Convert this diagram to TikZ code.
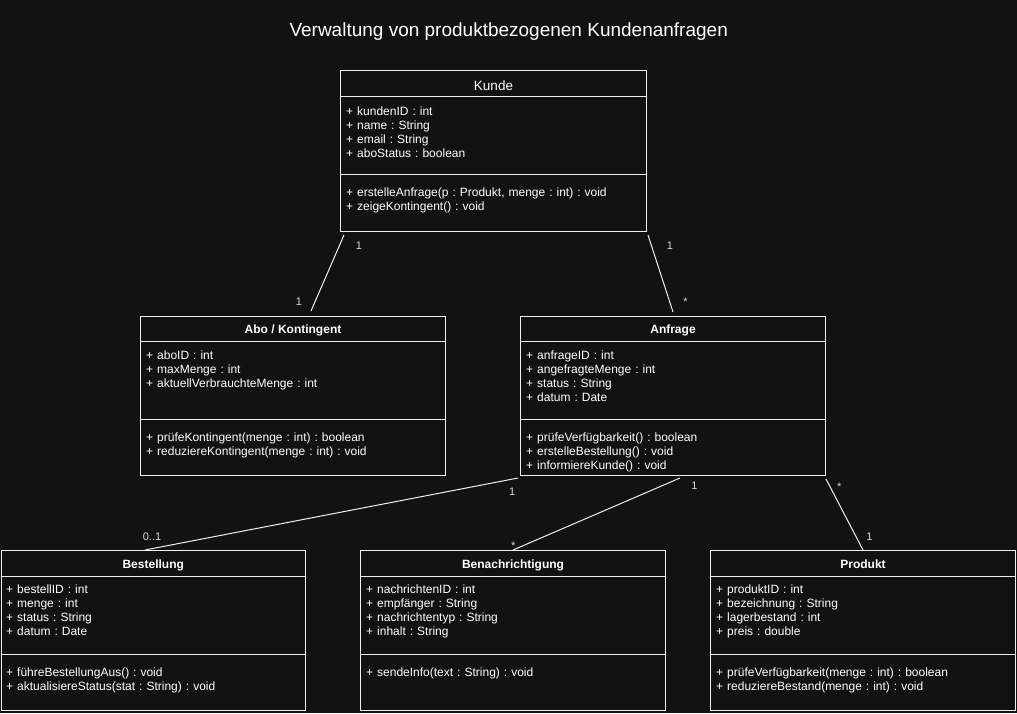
\documentclass[tikz,border=0pt]{standalone}
\usepackage{fontspec}
\setmainfont{Liberation Sans}
\usetikzlibrary{calc}
\definecolor{bg}{RGB}{18,18,18}
\definecolor{fg}{RGB}{240,240,240}
\frenchspacing
\begin{document}
\frenchspacing
\begin{tikzpicture}[x=1pt,y=-1pt,
  box/.style={draw=fg, line width=1pt, anchor=north west, inner sep=0pt, fill=bg},
  hdr/.style={text=white, font=\fontsize{12}{14}\selectfont\bfseries, anchor=base, inner sep=0pt},
  mem/.style={text=white, font=\fontsize{12}{14}\selectfont\frenchspacing, anchor=base west, inner sep=0pt, text width=295pt, align=left},
  sep/.style={draw=fg, line width=1pt},
  assoc/.style={draw=fg, line width=1pt},
  mult/.style={text=white!85!black, font=\fontsize{11}{13}\selectfont, anchor=base, inner sep=0pt}]
\fill[bg] (0,0) rectangle (1017,713);
\useasboundingbox (0,0) rectangle (1017,713);

\node[text=white, font=\fontsize{19}{22}\selectfont, anchor=base, inner sep=0pt] (title) at (508.7,36) {Verwaltung von produktbezogenen Kundenanfragen};

% Kunde
\node[box, minimum width=306pt, minimum height=161pt] (kunde) at (340,70) {};
\draw[sep] ($(kunde.north west)+(0,26)$) -- ($(kunde.north east)+(0,26)$);
\draw[sep] ($(kunde.north west)+(0,104)$) -- ($(kunde.north east)+(0,104)$);
\node[hdr, font=\fontsize{13.5}{16}\selectfont] (kunde-name) at ($(kunde.north)+(0,20)$) {Kunde};
\node[mem] (kunde-attr) at ($(kunde.north west)+(6,45)$) {+ kundenID : int\\+ name : String\\+ email : String\\+ aboStatus : boolean};
\node[mem] (kunde-meth) at ($(kunde.north west)+(6,126)$) {+ erstelleAnfrage(p : Produkt, menge : int) : void\\+ zeigeKontingent() : void};

% Abo / Kontingent
\node[box, minimum width=305pt, minimum height=159pt] (abo) at (140,316) {};
\draw[sep] ($(abo.north west)+(0,25)$) -- ($(abo.north east)+(0,25)$);
\draw[sep] ($(abo.north west)+(0,103)$) -- ($(abo.north east)+(0,103)$);
\node[hdr] (abo-name) at ($(abo.north)+(0,17.5)$) {Abo / Kontingent};
\node[mem] (abo-attr) at ($(abo.north west)+(6,43.5)$) {+ aboID : int\\+ maxMenge : int\\+ aktuellVerbrauchteMenge : int};
\node[mem] (abo-meth) at ($(abo.north west)+(6,125.7)$) {+ prüfeKontingent(menge : int) : boolean\\+ reduziereKontingent(menge : int) : void};

% Anfrage
\node[box, minimum width=305pt, minimum height=159pt] (anf) at (520,316) {};
\draw[sep] ($(anf.north west)+(0,25)$) -- ($(anf.north east)+(0,25)$);
\draw[sep] ($(anf.north west)+(0,103)$) -- ($(anf.north east)+(0,103)$);
\node[hdr] (anf-name) at ($(anf.north)+(0,17.5)$) {Anfrage};
\node[mem] (anf-attr) at ($(anf.north west)+(6,43.5)$) {+ anfrageID : int\\+ angefragteMenge : int\\+ status : String\\+ datum : Date};
\node[mem] (anf-meth) at ($(anf.north west)+(6,125.7)$) {+ prüfeVerfügbarkeit() : boolean\\+ erstelleBestellung() : void\\+ informiereKunde() : void};

% Bestellung
\node[box, minimum width=304.5pt, minimum height=160pt] (best) at (0.5,550) {};
\draw[sep] ($(best.north west)+(0,26)$) -- ($(best.north east)+(0,26)$);
\draw[sep] ($(best.north west)+(0,104)$) -- ($(best.north east)+(0,104)$);
\node[hdr] (best-name) at ($(best.north)+(0,18.3)$) {Bestellung};
\node[mem] (best-attr) at ($(best.north west)+(5.5,43.5)$) {+ bestellID : int\\+ menge : int\\+ status : String\\+ datum : Date};
\node[mem] (best-meth) at ($(best.north west)+(5.5,126)$) {+ führeBestellungAus() : void\\+ aktualisiereStatus(stat : String) : void};

% Benachrichtigung
\node[box, minimum width=305pt, minimum height=160pt] (ben) at (360,550) {};
\draw[sep] ($(ben.north west)+(0,26)$) -- ($(ben.north east)+(0,26)$);
\draw[sep] ($(ben.north west)+(0,104)$) -- ($(ben.north east)+(0,104)$);
\node[hdr] (ben-name) at ($(ben.north)+(0,18.3)$) {Benachrichtigung};
\node[mem] (ben-attr) at ($(ben.north west)+(6,43.5)$) {+ nachrichtenID : int\\+ empfänger : String\\+ nachrichtentyp : String\\+ inhalt : String};
\node[mem] (ben-meth) at ($(ben.north west)+(6,126)$) {+ sendeInfo(text : String) : void};

% Produkt
\node[box, minimum width=305pt, minimum height=160pt] (prod) at (710,550) {};
\draw[sep] ($(prod.north west)+(0,26)$) -- ($(prod.north east)+(0,26)$);
\draw[sep] ($(prod.north west)+(0,104)$) -- ($(prod.north east)+(0,104)$);
\node[hdr] (prod-name) at ($(prod.north)+(0,18.3)$) {Produkt};
\node[mem] (prod-attr) at ($(prod.north west)+(6,43.5)$) {+ produktID : int\\+ bezeichnung : String\\+ lagerbestand : int\\+ preis : double};
\node[mem] (prod-meth) at ($(prod.north west)+(6,126)$) {+ prüfeVerfügbarkeit(menge : int) : boolean\\+ reduziereBestand(menge : int) : void};

% Associations
\draw[assoc] ($(kunde.south west)+(4,3)$) -- ($(abo.north west)+(171,-5)$);
\draw[assoc] ($(kunde.south east)+(1,3)$) -- ($(anf.north west)+(153,-4)$);
\draw[assoc] ($(anf.south west)+(-2,2)$) -- ($(best.north west)+(144.5,0)$);
\draw[assoc] ($(anf.south west)+(160,2)$) -- ($(ben.north west)+(153,0)$);
\draw[assoc] ($(anf.south east)+(0,3)$) -- ($(prod.north west)+(153,0)$);

% Multiplicities
\node[mult] (m1) at (359,249) {1};
\node[mult] (m2) at (299,305) {1};
\node[mult] (m3) at (670,249) {1};
\node[mult] (m4) at (685.5,305.5) {*};
\node[mult] (m5) at (512.3,495) {1};
\node[mult] (m6) at (152,540) {0..1};
\node[mult] (m7) at (694.5,489.5) {1};
\node[mult] (m8) at (513.3,549) {*};
\node[mult] (m9) at (839.3,490) {*};
\node[mult] (m10) at (869.3,540) {1};
\end{tikzpicture}
\end{document}
